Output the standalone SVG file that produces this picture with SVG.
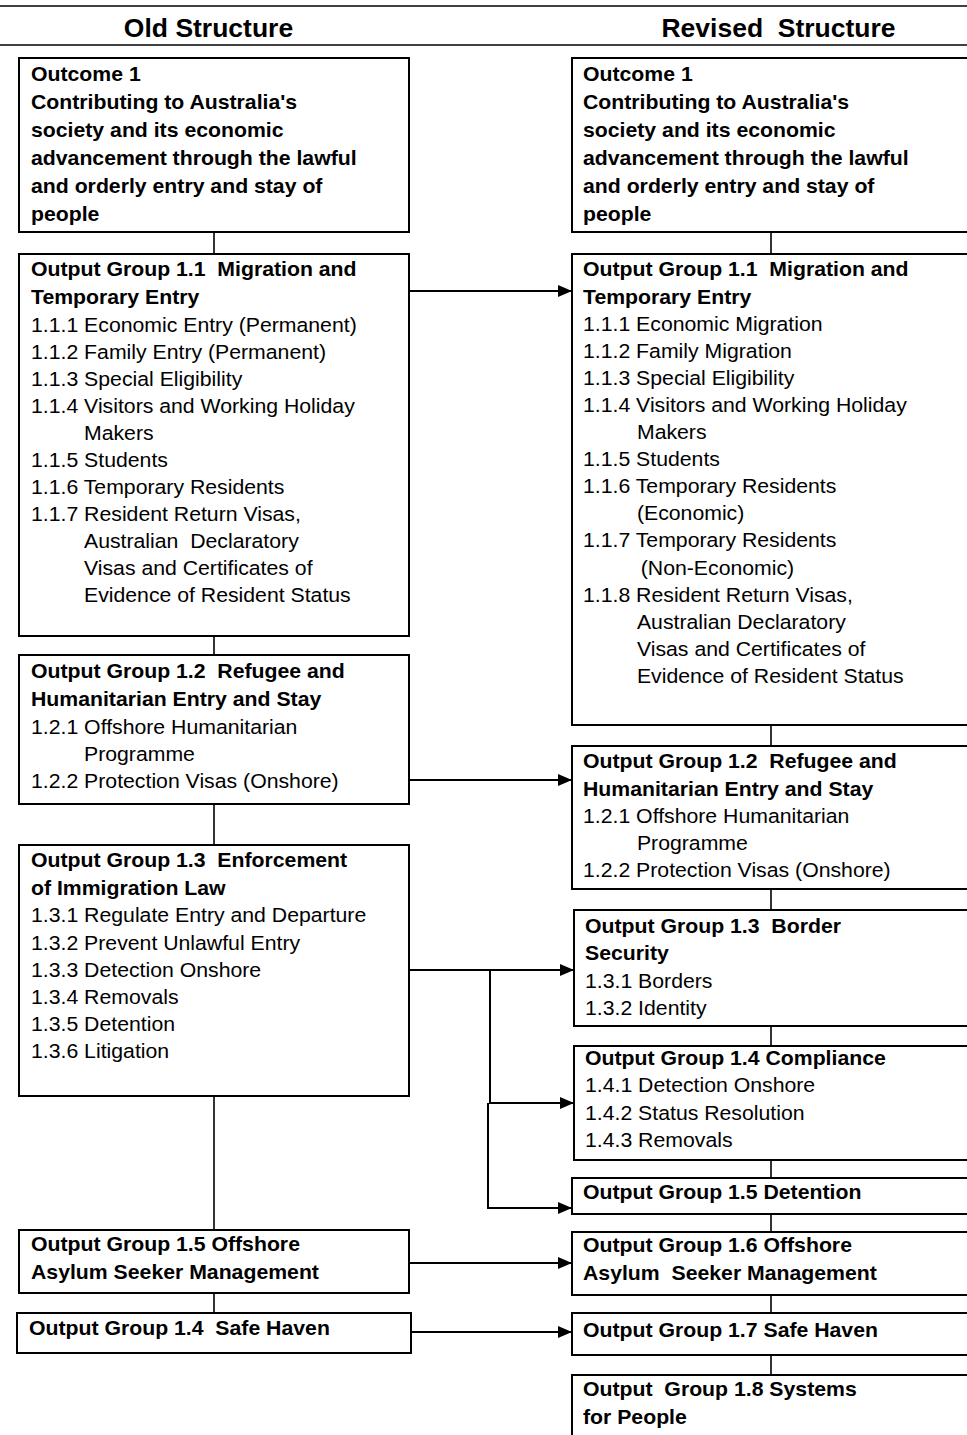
<svg xmlns="http://www.w3.org/2000/svg" width="967" height="1435" viewBox="0 0 967 1435" xml:space="preserve">
<defs>
<style>
text{white-space:pre}
.bx{fill:#fff;stroke:#000;stroke-width:2}
.t{font-family:"Liberation Sans",Arial,sans-serif;font-size:19.5px;fill:#000}
.b{font-weight:bold}
.h{font-family:"Liberation Sans",Arial,sans-serif;font-size:25px;font-weight:bold;fill:#000;text-anchor:middle}
.ln{stroke:#000;stroke-width:1.6;fill:none}
.ar{stroke:#000;stroke-width:2;fill:none}
</style>
<marker id="ah" viewBox="0 0 14 12" refX="14" refY="6" markerWidth="14" markerHeight="12" markerUnits="userSpaceOnUse" orient="auto">
<path d="M0,0 L14,6 L0,12 Z" fill="#000"/>
</marker>
</defs>
<rect width="967" height="1435" fill="#fff"/>
<g id="header">
<line class="ln" x1="0" y1="6" x2="967" y2="6"/>
<line class="ln" x1="0" y1="45" x2="967" y2="45"/>
<g transform="translate(208.5 0) scale(1.06 1)"><text class="h" x="0" y="37">Old Structure</text></g>
<g transform="translate(778.5 0) scale(1.06 1)"><text class="h" x="0" y="37">Revised  Structure</text></g>
</g>
<g id="connectors">
<line class="ln" x1="214" y1="232" x2="214" y2="254"/>
<line class="ln" x1="214" y1="636" x2="214" y2="655"/>
<line class="ln" x1="214" y1="804" x2="214" y2="845"/>
<line class="ln" x1="214" y1="1096" x2="214" y2="1230"/>
<line class="ln" x1="214" y1="1293" x2="214" y2="1313"/>
<line class="ln" x1="771" y1="232" x2="771" y2="254"/>
<line class="ln" x1="771" y1="725" x2="771" y2="746"/>
<line class="ln" x1="771" y1="889" x2="771" y2="910"/>
<line class="ln" x1="771" y1="1026" x2="771" y2="1046"/>
<line class="ln" x1="771" y1="1160" x2="771" y2="1178"/>
<line class="ln" x1="771" y1="1214" x2="771" y2="1232"/>
<line class="ln" x1="771" y1="1295" x2="771" y2="1313"/>
<line class="ln" x1="771" y1="1355" x2="771" y2="1375"/>
<line class="ar" x1="409" y1="291" x2="572" y2="291" marker-end="url(#ah)"/>
<line class="ar" x1="409" y1="780" x2="572" y2="780" marker-end="url(#ah)"/>
<line class="ar" x1="409" y1="970" x2="574" y2="970" marker-end="url(#ah)"/>
<polyline class="ar" points="490,970 490,1103 574,1103" marker-end="url(#ah)"/>
<polyline class="ar" points="488,1103 488,1208 572,1208" marker-end="url(#ah)"/>
<line class="ar" x1="409" y1="1263" x2="572" y2="1263" marker-end="url(#ah)"/>
<line class="ar" x1="411" y1="1332" x2="572" y2="1332" marker-end="url(#ah)"/>
</g>
<g id="old-outcome1">
<rect class="bx" x="19" y="58" width="390" height="174"/>
<g transform="translate(31 0) scale(1.09 1)" class="t b">
<text x="0" y="81">Outcome 1</text>
<text x="0" y="109">Contributing to Australia's</text>
<text x="0" y="137">society and its economic</text>
<text x="0" y="165">advancement through the lawful</text>
<text x="0" y="193">and orderly entry and stay of</text>
<text x="0" y="221">people</text>
</g>
</g>
<g id="old-og11">
<rect class="bx" x="19" y="254" width="390" height="382"/>
<g transform="translate(31 0) scale(1.09 1)" class="t">
<text class="b" x="0" y="276">Output Group 1.1  Migration and</text>
<text class="b" x="0" y="304">Temporary Entry</text>
<text x="0" y="332">1.1.1 Economic Entry (Permanent)</text>
<text x="0" y="359">1.1.2 Family Entry (Permanent)</text>
<text x="0" y="386">1.1.3 Special Eligibility</text>
<text x="0" y="413">1.1.4 Visitors and Working Holiday</text>
<text x="48.6" y="440">Makers</text>
<text x="0" y="467">1.1.5 Students</text>
<text x="0" y="494">1.1.6 Temporary Residents</text>
<text x="0" y="521">1.1.7 Resident Return Visas,</text>
<text x="48.6" y="548">Australian  Declaratory</text>
<text x="48.6" y="575">Visas and Certificates of</text>
<text x="48.6" y="602">Evidence of Resident Status</text>
</g>
</g>
<g id="old-og12">
<rect class="bx" x="19" y="655" width="390" height="149"/>
<g transform="translate(31 0) scale(1.09 1)" class="t">
<text class="b" x="0" y="678">Output Group 1.2  Refugee and</text>
<text class="b" x="0" y="706">Humanitarian Entry and Stay</text>
<text x="0" y="734">1.2.1 Offshore Humanitarian</text>
<text x="48.6" y="761">Programme</text>
<text x="0" y="788">1.2.2 Protection Visas (Onshore)</text>
</g>
</g>
<g id="old-og13">
<rect class="bx" x="19" y="845" width="390" height="251"/>
<g transform="translate(31 0) scale(1.09 1)" class="t">
<text class="b" x="0" y="867">Output Group 1.3  Enforcement</text>
<text class="b" x="0" y="895">of Immigration Law</text>
<text x="0" y="922">1.3.1 Regulate Entry and Departure</text>
<text x="0" y="950">1.3.2 Prevent Unlawful Entry</text>
<text x="0" y="977">1.3.3 Detection Onshore</text>
<text x="0" y="1004">1.3.4 Removals</text>
<text x="0" y="1031">1.3.5 Detention</text>
<text x="0" y="1058">1.3.6 Litigation</text>
</g>
</g>
<g id="old-og15">
<rect class="bx" x="19" y="1230" width="390" height="63"/>
<g transform="translate(31 0) scale(1.09 1)" class="t b">
<text x="0" y="1251">Output Group 1.5 Offshore</text>
<text x="0" y="1279">Asylum Seeker Management</text>
</g>
</g>
<g id="old-og14">
<rect class="bx" x="17" y="1313" width="394" height="40"/>
<g transform="translate(29 0) scale(1.09 1)" class="t b">
<text x="0" y="1335">Output Group 1.4  Safe Haven</text>
</g>
</g>
<g id="new-outcome1">
<rect class="bx" x="572" y="58" width="420" height="174"/>
<g transform="translate(583 0) scale(1.09 1)" class="t b">
<text x="0" y="81">Outcome 1</text>
<text x="0" y="109">Contributing to Australia's</text>
<text x="0" y="137">society and its economic</text>
<text x="0" y="165">advancement through the lawful</text>
<text x="0" y="193">and orderly entry and stay of</text>
<text x="0" y="221">people</text>
</g>
</g>
<g id="new-og11">
<rect class="bx" x="572" y="254" width="420" height="471"/>
<g transform="translate(583 0) scale(1.09 1)" class="t">
<text class="b" x="0" y="276">Output Group 1.1  Migration and</text>
<text class="b" x="0" y="304">Temporary Entry</text>
<text x="0" y="331">1.1.1 Economic Migration</text>
<text x="0" y="358">1.1.2 Family Migration</text>
<text x="0" y="385">1.1.3 Special Eligibility</text>
<text x="0" y="412">1.1.4 Visitors and Working Holiday</text>
<text x="49.5" y="439">Makers</text>
<text x="0" y="466">1.1.5 Students</text>
<text x="0" y="493">1.1.6 Temporary Residents</text>
<text x="49.5" y="520">(Economic)</text>
<text x="0" y="547">1.1.7 Temporary Residents</text>
<text x="53" y="575">(Non-Economic)</text>
<text x="0" y="602">1.1.8 Resident Return Visas,</text>
<text x="49.5" y="629">Australian Declaratory</text>
<text x="49.5" y="656">Visas and Certificates of</text>
<text x="49.5" y="683">Evidence of Resident Status</text>
</g>
</g>
<g id="new-og12">
<rect class="bx" x="572" y="746" width="420" height="143"/>
<g transform="translate(583 0) scale(1.09 1)" class="t">
<text class="b" x="0" y="768">Output Group 1.2  Refugee and</text>
<text class="b" x="0" y="796">Humanitarian Entry and Stay</text>
<text x="0" y="823">1.2.1 Offshore Humanitarian</text>
<text x="49.5" y="850">Programme</text>
<text x="0" y="877">1.2.2 Protection Visas (Onshore)</text>
</g>
</g>
<g id="new-og13">
<rect class="bx" x="574" y="910" width="420" height="116"/>
<g transform="translate(585 0) scale(1.09 1)" class="t">
<text class="b" x="0" y="933">Output Group 1.3  Border</text>
<text class="b" x="0" y="960">Security</text>
<text x="0" y="988">1.3.1 Borders</text>
<text x="0" y="1015">1.3.2 Identity</text>
</g>
</g>
<g id="new-og14">
<rect class="bx" x="574" y="1046" width="420" height="114"/>
<g transform="translate(585 0) scale(1.09 1)" class="t">
<text class="b" x="0" y="1065">Output Group 1.4 Compliance</text>
<text x="0" y="1092">1.4.1 Detection Onshore</text>
<text x="0" y="1120">1.4.2 Status Resolution</text>
<text x="0" y="1147">1.4.3 Removals</text>
</g>
</g>
<g id="new-og15">
<rect class="bx" x="572" y="1178" width="420" height="36"/>
<g transform="translate(583 0) scale(1.09 1)" class="t b">
<text x="0" y="1199">Output Group 1.5 Detention</text>
</g>
</g>
<g id="new-og16">
<rect class="bx" x="572" y="1232" width="420" height="63"/>
<g transform="translate(583 0) scale(1.09 1)" class="t b">
<text x="0" y="1252">Output Group 1.6 Offshore</text>
<text x="0" y="1280">Asylum  Seeker Management</text>
</g>
</g>
<g id="new-og17">
<rect class="bx" x="572" y="1313" width="420" height="42"/>
<g transform="translate(583 0) scale(1.09 1)" class="t b">
<text x="0" y="1337">Output Group 1.7 Safe Haven</text>
</g>
</g>
<g id="new-og18">
<rect class="bx" x="572" y="1375" width="420" height="80"/>
<g transform="translate(583 0) scale(1.09 1)" class="t b">
<text x="0" y="1396">Output  Group 1.8 Systems</text>
<text x="0" y="1424">for People</text>
</g>
</g>
</svg>
